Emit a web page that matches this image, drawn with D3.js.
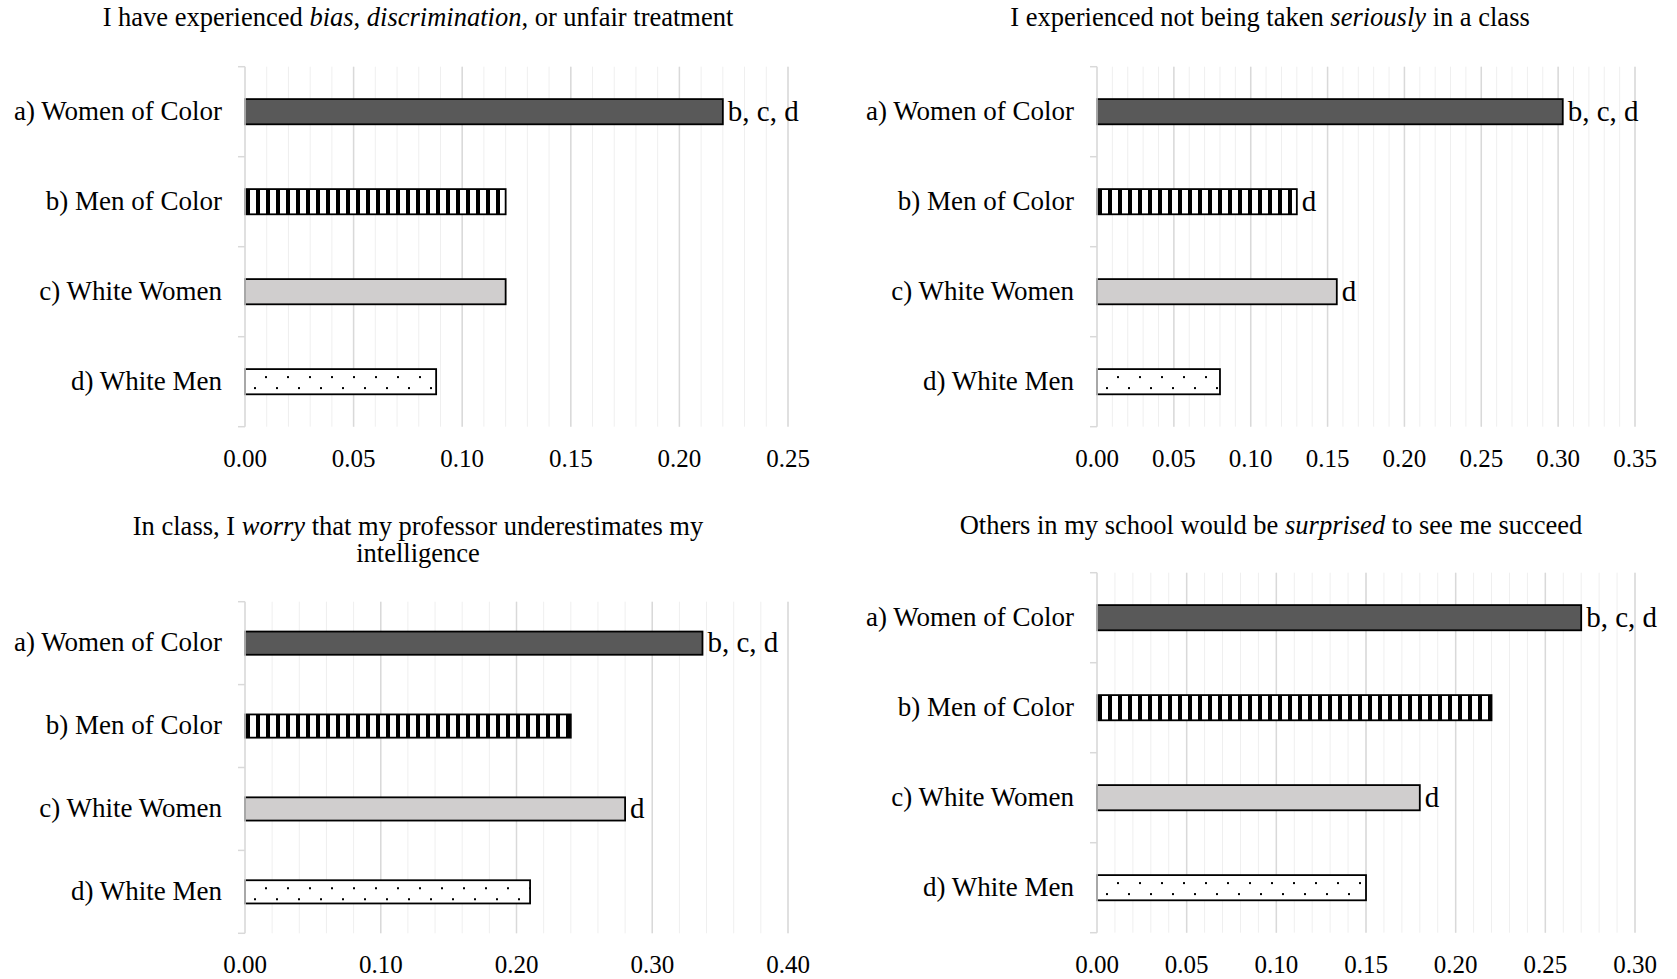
<!DOCTYPE html>
<html><head><meta charset="utf-8">
<script src="https://cdn.jsdelivr.net/npm/d3@7"></script>
<style>html,body{margin:0;padding:0;background:#fff;} svg{display:block;}</style>
</head><body>
<svg id="chart" width="1677" height="979"></svg>
<script>
// ---------- data ----------
const categories = ["a) Women of Color", "b) Men of Color", "c) White Women", "d) White Men"];

const biasValues      = [0.220, 0.120, 0.120, 0.088];
const seriousValues   = [0.303, 0.130, 0.156, 0.080];
const worryValues     = [0.337, 0.240, 0.280, 0.210];
const surprisedValues = [0.270, 0.220, 0.180, 0.150];

const biasSig      = ["b, c, d", "", "", ""];
const seriousSig   = ["b, c, d", "d", "d", ""];
const worrySig     = ["b, c, d", "", "d", ""];
const surprisedSig = ["b, c, d", "", "d", ""];

const biasTicks      = [0, 0.05, 0.10, 0.15, 0.20, 0.25];
const seriousTicks   = [0, 0.05, 0.10, 0.15, 0.20, 0.25, 0.30, 0.35];
const worryTicks     = [0, 0.10, 0.20, 0.30, 0.40];
const surprisedTicks = [0, 0.05, 0.10, 0.15, 0.20, 0.25, 0.30];

// title lines: segments of [text, italic]
const biasTitle = [[["I have experienced ", false], ["bias", true], [", ", false], ["discrimination", true], [", or unfair treatment", false]]];
const seriousTitle = [[["I experienced not being taken ", false], ["seriously", true], [" in a class", false]]];
const worryTitle = [[["In class, I ", false], ["worry", true], [" that my professor underestimates my", false]], [["intelligence", false]]];
const surprisedTitle = [[["Others in my school would be ", false], ["surprised", true], [" to see me succeed", false]]];

// ---------- layout ----------
const FONT = "Liberation Serif";
const panels = [
  {title: biasTitle, values: biasValues, sig: biasSig, ticks: biasTicks, minor: 0.01,
   x0: 245, x1: 788, top: 66.7, bottom: 426.7, titleX: 418, titleY: 26, tickY: 467},
  {title: seriousTitle, values: seriousValues, sig: seriousSig, ticks: seriousTicks, minor: 0.01,
   x0: 1097, x1: 1635, top: 66.7, bottom: 426.7, titleX: 1270, titleY: 26, tickY: 467},
  {title: worryTitle, values: worryValues, sig: worrySig, ticks: worryTicks, minor: 0.02,
   x0: 245, x1: 788, top: 601.7, bottom: 933.3, titleX: 418, titleY: 535, tickY: 973},
  {title: surprisedTitle, values: surprisedValues, sig: surprisedSig, ticks: surprisedTicks, minor: 0.01,
   x0: 1097, x1: 1635, top: 572.7, bottom: 932.7, titleX: 1271, titleY: 534, tickY: 973}
];

const svg = d3.select("#chart");
const defs = svg.append("defs");

panels.forEach((p, pi) => {
  const maxV = p.ticks[p.ticks.length - 1];
  const x = d3.scaleLinear().domain([0, maxV]).range([p.x0, p.x1]);
  const y = d3.scaleBand().domain(categories).range([p.top, p.bottom])
    .paddingInner(0.72).paddingOuter(0.36);
  const g = svg.append("g");

  // patterns
  const yb = y(categories[1]);
  const sp = defs.append("pattern").attr("id", "stripe" + pi)
    .attr("patternUnits", "userSpaceOnUse").attr("x", p.x0 + 1).attr("y", yb)
    .attr("width", 10).attr("height", 10);
  sp.append("rect").attr("width", 10).attr("height", 10).attr("fill", "#fff");
  sp.append("rect").attr("x", 0).attr("width", 4).attr("height", 10).attr("fill", "#000");

  const yd = y(categories[3]);
  const dp = defs.append("pattern").attr("id", "dots" + pi)
    .attr("patternUnits", "userSpaceOnUse").attr("x", p.x0).attr("y", yd)
    .attr("width", 22).attr("height", 22);
  dp.append("rect").attr("width", 22).attr("height", 22).attr("fill", "#fff");
  dp.append("rect").attr("x", 9).attr("y", 18).attr("width", 2).attr("height", 2).attr("fill", "#000");
  dp.append("rect").attr("x", 20).attr("y", 7).attr("width", 2).attr("height", 2).attr("fill", "#000");

  const fills = ["#595959", `url(#stripe${pi})`, "#d0cece", `url(#dots${pi})`];

  // minor gridlines
  const minorVals = d3.range(0, maxV + 1e-9, p.minor);
  g.append("g").selectAll("line").data(minorVals).join("line")
    .attr("x1", d => x(d)).attr("x2", d => x(d))
    .attr("y1", p.top).attr("y2", p.bottom)
    .attr("stroke", "#efefef").attr("stroke-width", 1);
  // major gridlines
  g.append("g").selectAll("line").data(p.ticks.slice(1)).join("line")
    .attr("x1", d => x(d)).attr("x2", d => x(d))
    .attr("y1", p.top).attr("y2", p.bottom)
    .attr("stroke", "#d9d9d9").attr("stroke-width", 1.5);

  // bars
  g.append("g").selectAll("rect").data(p.values).join("rect")
    .attr("x", x(0))
    .attr("y", (d, i) => y(categories[i]))
    .attr("width", d => x(d) - x(0))
    .attr("height", y.bandwidth())
    .attr("fill", (d, i) => fills[i])
    .attr("stroke", "#000").attr("stroke-width", 1.8);

  // vertical axis line + ticks
  g.append("line").attr("x1", p.x0).attr("x2", p.x0).attr("y1", p.top).attr("y2", p.bottom)
    .attr("stroke", "#d9d9d9").attr("stroke-width", 1.5);
  const bounds = categories.map(c => y(c) - y.step() * y.paddingInner() / 2).concat([p.bottom]);
  bounds[0] = p.top;
  g.append("g").selectAll("line").data(bounds).join("line")
    .attr("x1", p.x0 - 7).attr("x2", p.x0)
    .attr("y1", d => d).attr("y2", d => d)
    .attr("stroke", "#d9d9d9").attr("stroke-width", 1.5);

  // category labels
  g.append("g").selectAll("text").data(categories).join("text")
    .attr("x", p.x0 - 23)
    .attr("y", d => y(d) + y.bandwidth() / 2)
    .attr("dy", "0.3em")
    .attr("text-anchor", "end")
    .attr("font-family", FONT).attr("font-size", 27).attr("fill", "#000")
    .text(d => d);

  // x tick labels
  g.append("g").selectAll("text").data(p.ticks).join("text")
    .attr("x", d => x(d)).attr("y", p.tickY)
    .attr("text-anchor", "middle")
    .attr("font-family", FONT).attr("font-size", 25).attr("fill", "#000")
    .text(d => d3.format(".2f")(d));

  // significance annotations
  g.append("g").selectAll("text").data(p.values).join("text")
    .attr("x", d => x(d) + 5)
    .attr("y", (d, i) => y(categories[i]) + y.bandwidth() / 2 + 9)
    .attr("font-family", FONT).attr("font-size", 29).attr("fill", "#000")
    .text((d, i) => p.sig[i]);

  // title
  p.title.forEach((line, li) => {
    const t = g.append("text")
      .attr("x", p.titleX).attr("y", p.titleY + li * 27)
      .attr("text-anchor", "middle")
      .attr("font-family", FONT).attr("font-size", 26.5).attr("fill", "#000");
    line.forEach(seg => {
      t.append("tspan").attr("font-style", seg[1] ? "italic" : "normal").text(seg[0]);
    });
  });
});
</script>
</body></html>
